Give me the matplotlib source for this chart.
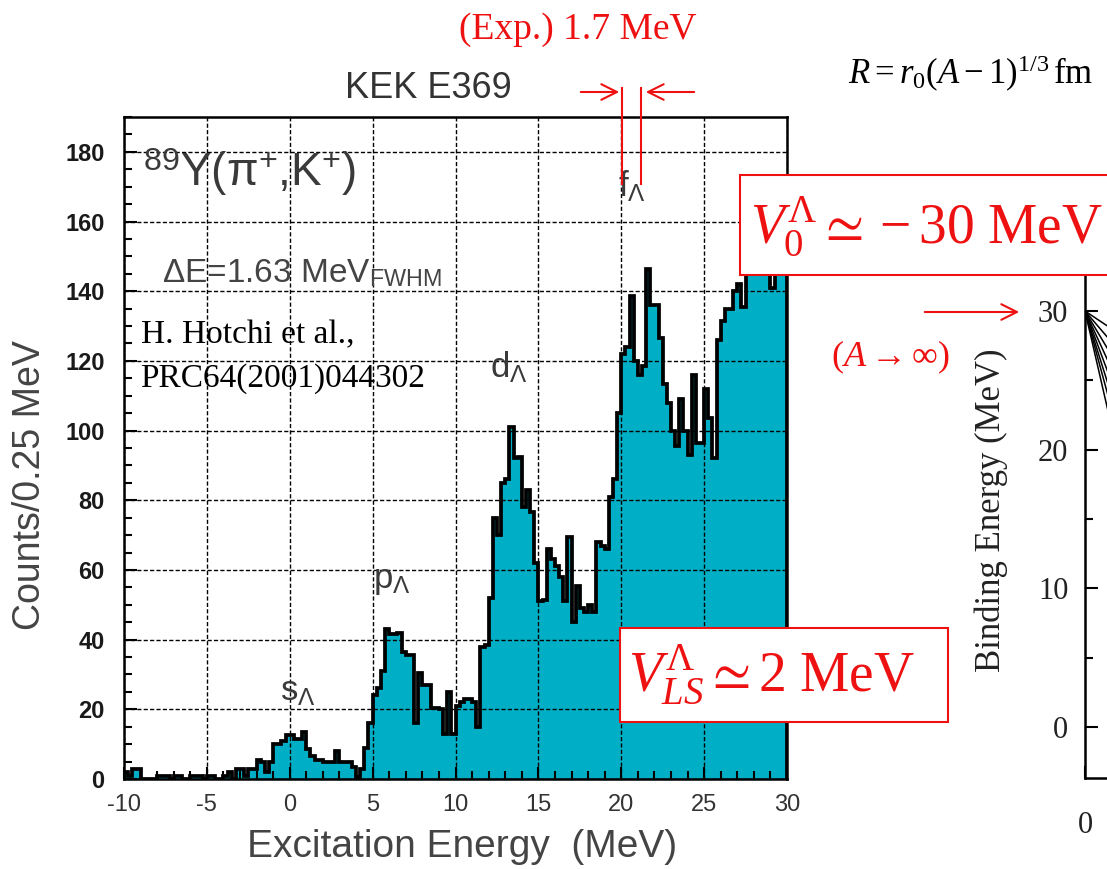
import numpy as np
import matplotlib
matplotlib.use("Agg")
import matplotlib.pyplot as plt
from matplotlib.patches import Rectangle
from matplotlib.lines import Line2D
from matplotlib.ticker import MultipleLocator, FixedLocator, FixedFormatter

plt.rcParams['font.family'] = ['Liberation Sans', 'DejaVu Sans']
plt.rcParams['axes.unicode_minus'] = False
plt.rcParams['mathtext.fontset'] = 'custom'
plt.rcParams['mathtext.rm'] = 'Liberation Serif'
plt.rcParams['mathtext.it'] = 'Liberation Serif:italic'
plt.rcParams['mathtext.bf'] = 'Liberation Serif:bold'
plt.rcParams['mathtext.sf'] = 'Liberation Sans'
plt.rcParams['mathtext.fallback'] = 'stix'

# 89Y(pi+,K+) excitation spectrum, counts per 0.25 MeV bin, -10 .. 30 MeV
bin_edges = np.arange(-10, 30.001, 0.25)
counts = [
    # -10 .. -0.25
    2, 1, 3, 3, 0, 0, 0, 0, 1, 1, 1, 0, 1, 1, 0, 0, 1, 1, 1, 0,
    1, 1, 0, 0, 1, 2, 0, 3, 3, 1, 3, 3, 5.5, 5, 2, 5, 10, 10, 11, 12.5,
    # 0 .. 9.75
    12.5, 11.5, 11.5, 13.5, 8.5, 6.5, 5.5, 5.5, 5, 5, 5, 8, 5, 5, 5, 3.5, 0.5, 3, 9, 16,
    24, 26, 31, 43, 41.5, 41.5, 42, 36.5, 35.5, 35.5, 16, 30.5, 27, 27, 20.5, 20.5, 20, 13, 25, 13,
    # 10 .. 19.75
    21, 22, 23, 23, 22, 15, 38, 38.5, 52, 75, 70, 85, 86, 101, 92, 92.5, 78, 83, 76.5, 62,
    51, 51.5, 66, 63, 61, 58, 51, 69.5, 45, 55.5, 49, 48, 50, 48, 68, 67, 66, 81, 86, 105,
    # 20 .. 29.75
    122, 124, 138.5, 120, 116, 118.5, 146.5, 136, 136, 126.5, 113.5, 108, 100, 95.5, 109, 100, 93, 116, 96.5, 96.5,
    112, 103.5, 92, 126, 131.5, 135, 135, 140, 142, 135.5, 148, 152, 155, 150, 158, 160, 141, 150, 155, 158,
]
assert len(counts) == len(bin_edges) - 1

# peak labels (text, energy, counts)
peak_labels = ['s', 'p', 'd', 'f']
peak_x = [-0.6, 5.0, 12.1, 19.8]
peak_y = [25, 57, 118, 170]

# right panel: binding energy lines from A -> infinity limit
be_limit = 30
line_x_end = 0.25
line_be_end = [26, 23, 20, 17, 14, 11, 8, 4]

W, H = 1107, 869
def fx(px):
    return px / W
def fy(py):
    return 1 - py / H

fig = plt.figure(figsize=(W / 100, H / 100), dpi=100)

# ---------------- histogram ----------------
ax = fig.add_axes([fx(124), fy(779), (787 - 124) / W, (779 - 117) / H])
ax.stairs(counts, bin_edges, fill=True, color='#00AFC6', zorder=1)
ax.stairs(counts, bin_edges, color='black', linewidth=2.7, zorder=3)
ax.set_xlim(-10, 30)
ax.set_ylim(0, 190)
ax.xaxis.set_major_locator(MultipleLocator(5))
ax.xaxis.set_minor_locator(MultipleLocator(1))
ax.yaxis.set_major_locator(FixedLocator(np.arange(0, 181, 20)))
ax.yaxis.set_minor_locator(MultipleLocator(5))
ax.set_axisbelow(False)
ax.grid(True, which='major', color='black', linestyle=(0, (3, 1.6)), linewidth=1.0)
ax.tick_params(which='both', direction='in', top=False, right=False, width=1.5, color='black')
ax.tick_params(which='major', length=9)
ax.tick_params(which='minor', length=6)
ax.tick_params(axis='y', labelsize=17, pad=14, labelcolor='#1a1a1a')
ax.tick_params(axis='x', labelsize=17, pad=11, labelcolor='#333333')
for lab in ax.get_yticklabels():
    lab.set_fontweight('bold')
for sp in ax.spines.values():
    sp.set_linewidth(1.8)
    sp.set_zorder(4)

fig.text(fx(428), fy(88), 'KEK E369', ha='center', va='center', fontsize=26, color='#333333')
fig.text(fx(30), fy(485), 'Counts/0.25 MeV', rotation=90, ha='center', va='center',
         fontsize=27, color='#444444')
fig.text(fx(462), fy(847), 'Excitation Energy  (MeV)', ha='center', va='center',
         fontsize=28, color='#444444')

ax.text(-8.85, 174, r'$^{\mathsf{89}}$Y(π$^{\mathsf{+}}$,K$^{\mathsf{+}}$)', ha='left', va='center',
        fontsize=33, color='#3a3a3a', zorder=5)
ax.text(-7.7, 145, r'ΔE=1.63 MeV$_{\mathsf{FWHM}}$', ha='left', va='center',
        fontsize=24, color='#444444', zorder=5)
ax.text(-9.0, 127.5, 'H. Hotchi et al.,', family='Liberation Serif', ha='left', va='center',
        fontsize=24, color='black', zorder=5)
ax.text(-9.0, 115, 'PRC64(2001)044302', family='Liberation Serif', ha='left', va='center',
        fontsize=24, color='black', zorder=5)
for name, px_, py_ in zip(peak_labels, peak_x, peak_y):
    ax.text(px_, py_, name + r'$_{\mathsf{Λ}}$', ha='left', va='center', fontsize=25,
            color='#3a3a3a', zorder=5)

# ---------------- right panel ----------------
ax2 = fig.add_axes([fx(1085), fy(778), 0.3, (778 - 250) / H])
for be in line_be_end:
    ax2.plot([0, line_x_end], [be_limit, be], color='black', linewidth=1.1)
ax2.set_xlim(0, 1)
ax2.set_ylim(-3.68, 34.4)
ax2.yaxis.set_major_locator(FixedLocator([0, 10, 20, 30]))
ax2.yaxis.set_minor_locator(FixedLocator([5, 15, 25]))
ax2.xaxis.set_major_locator(FixedLocator([0]))
ax2.xaxis.set_major_formatter(FixedFormatter(['0']))
ax2.spines['top'].set_visible(False)
ax2.spines['right'].set_visible(False)
for sp in ('left', 'bottom'):
    ax2.spines[sp].set_linewidth(1.8)
ax2.tick_params(which='both', direction='in', width=1.5)
ax2.tick_params(which='major', length=9)
ax2.tick_params(which='minor', length=6)
ax2.tick_params(axis='y', labelsize=22, pad=12, labelcolor='#222222')
ax2.tick_params(axis='x', labelsize=22, pad=24, labelcolor='#222222')
for lab in ax2.get_xticklabels() + ax2.get_yticklabels():
    lab.set_family('Liberation Serif')
fig.text(fx(991), fy(510), 'Binding Energy (MeV)', rotation=90, ha='center', va='center',
         family='Liberation Serif', fontsize=25, color='#222222')

# ---------------- annotations ----------------
red = '#EE1111'
fig.text(fx(578), fy(30), '(Exp.) 1.7 MeV', family='Liberation Serif', ha='center',
         va='center', fontsize=27, color=red)
arrow = dict(arrowstyle='->', color=red, lw=1.5, mutation_scale=28)
ax.annotate('', xy=(fx(622), fy(92)), xytext=(fx(578), fy(92)), xycoords='figure fraction',
            textcoords='figure fraction', arrowprops=arrow)
ax.annotate('', xy=(fx(643), fy(92)), xytext=(fx(697), fy(92)), xycoords='figure fraction',
            textcoords='figure fraction', arrowprops=arrow)
for xp in (622, 641):
    fig.add_artist(Line2D([fx(xp), fx(xp)], [fy(88), fy(184)], color=red, lw=1.5,
                          transform=fig.transFigure))
ax.annotate('', xy=(fx(1022), fy(312)), xytext=(fx(922), fy(312)), xycoords='figure fraction',
            textcoords='figure fraction', arrowprops=arrow)
fig.text(fx(890), fy(357), r'$(A \rightarrow \infty)$', ha='center', va='center',
         fontsize=26, color=red)

fig.text(fx(848), fy(74), r'$R = r_0(A-1)^{1/3}\,\mathrm{fm}$', ha='left', va='center',
         fontsize=25, color='black')

# boxed potential values
fig.add_artist(Rectangle((fx(740), fy(275)), (1115 - 740) / W, 100 / H, transform=fig.transFigure,
                         facecolor='white', edgecolor=red, linewidth=1.5, zorder=6))
fig.text(fx(750), fy(226), r'$V_0^{\Lambda} \simeq -30\ \mathrm{MeV}$', ha='left', va='center',
         fontsize=40, color=red, zorder=7)
fig.add_artist(Rectangle((fx(620), fy(722)), (948 - 620) / W, 94 / H, transform=fig.transFigure,
                         facecolor='white', edgecolor=red, linewidth=1.5, zorder=6))
fig.text(fx(628), fy(674), r'$V_{LS}^{\Lambda} \simeq 2\ \mathrm{MeV}$', ha='left', va='center',
         fontsize=40, color=red, zorder=7)

fig.savefig('out.png', dpi=100)
